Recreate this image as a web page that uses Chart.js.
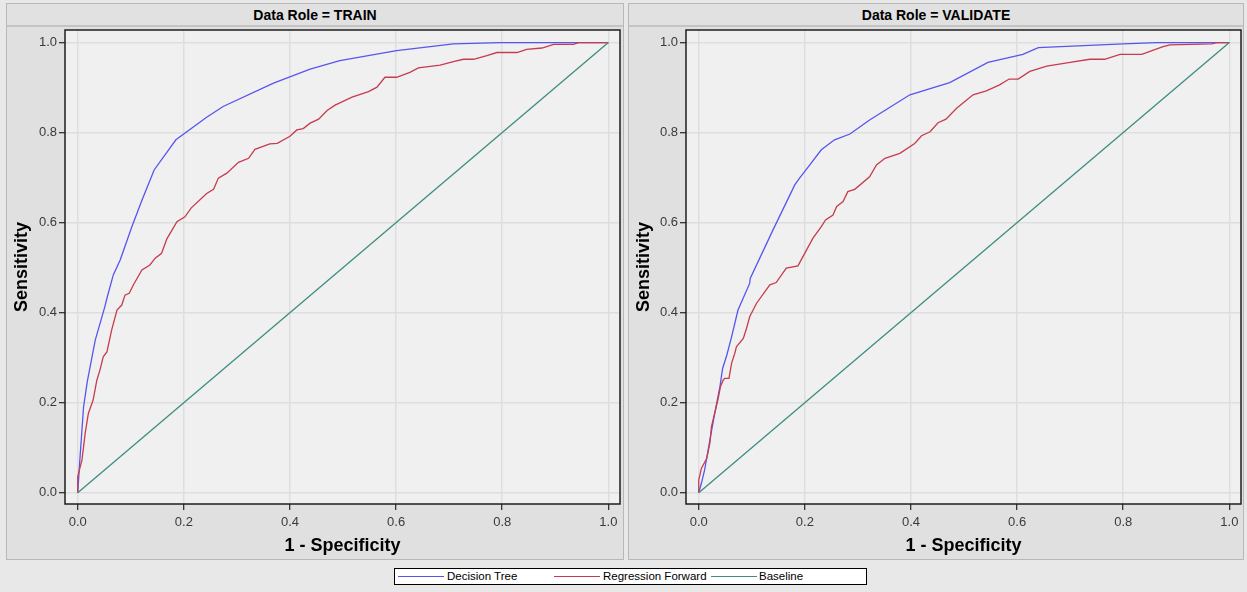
<!DOCTYPE html>
<html>
<head>
<meta charset="utf-8">
<script src="https://cdn.jsdelivr.net/npm/chart.js@4.4.1/dist/chart.umd.min.js"></script>
<style>
    body { margin: 0; width: 1247px; height: 592px; background: #e8e8e8; position: relative; overflow: hidden;
           font-family: "Liberation Sans", Arial, sans-serif; }
    .panel { position: absolute; top: 3px; height: 555px; background: #e0e0e0; border: 1px solid #b8b8b8; }
    .head { position: absolute; left: 0; right: 0; top: 0; height: 21px; border-bottom: 2px solid #c4c4c4;
            background: #e1e1e1; text-align: center; font-weight: bold; font-size: 14px; line-height: 22px; color: #000; }
    canvas { position: absolute; }
    #legend { position: absolute; left: 394px; top: 568px; width: 471px; height: 15px; background: #fff; border: 1px solid #000; }
    #legend span.ln { position: absolute; top: 7px; width: 46px; height: 1px; }
    #legend span.tx { position: absolute; top: 0; font-size: 11.5px; line-height: 15px; color: #000; }
</style>
</head>
<body>
<div class="panel" style="left:6px; width:616px;"><div class="head">Data Role = TRAIN</div></div>
<div class="panel" style="left:628px; width:614px;"><div class="head">Data Role = VALIDATE</div></div>
<canvas id="trainChart" width="617" height="534" style="left:6px; top:26px;"></canvas>
<canvas id="validChart" width="615" height="534" style="left:628px; top:26px;"></canvas>
<div id="legend">
    <span class="ln" style="left:3px; background:#5656ee;"></span><span class="tx" style="left:52px;">Decision Tree</span>
    <span class="ln" style="left:159px; background:#c63c4e;"></span><span class="tx" style="left:208px;">Regression Forward</span>
    <span class="ln" style="left:316px; background:#3d8d82;"></span><span class="tx" style="left:364px;">Baseline</span>
</div>
<script>
// tick labels shared by both panels
const tickValues = [0, 0.2, 0.4, 0.6, 0.8, 1.0];

// TRAIN - Decision Tree
const trainTreeX = [0, 0.004, 0.011, 0.018, 0.033, 0.051, 0.055, 0.067, 0.080, 0.102, 0.121, 0.144, 0.185, 0.243, 0.274, 0.369, 0.438, 0.494, 0.601, 0.708, 0.796, 0.941, 1];
const trainTreeY = [0, 0.073, 0.191, 0.247, 0.339, 0.413, 0.432, 0.484, 0.517, 0.591, 0.650, 0.717, 0.784, 0.834, 0.858, 0.910, 0.941, 0.960, 0.982, 0.997, 1.0, 1.0, 1];

// TRAIN - Regression Forward
const trainRegX = [0, 0, 0.008, 0.014, 0.020, 0.029, 0.036, 0.042, 0.048, 0.055, 0.064, 0.074, 0.083, 0.089, 0.097, 0.105, 0.121, 0.136, 0.146, 0.158, 0.168, 0.187, 0.202, 0.214, 0.243, 0.256, 0.265, 0.281, 0.303, 0.322, 0.334, 0.362, 0.376, 0.400, 0.413, 0.425, 0.438, 0.454, 0.470, 0.485, 0.517, 0.548, 0.564, 0.579, 0.601, 0.626, 0.642, 0.683, 0.708, 0.727, 0.746, 0.771, 0.790, 0.828, 0.846, 0.875, 0.897, 0.934, 0.944, 1];
const trainRegY = [0, 0.036, 0.073, 0.132, 0.176, 0.206, 0.250, 0.273, 0.302, 0.313, 0.362, 0.406, 0.417, 0.439, 0.443, 0.462, 0.495, 0.506, 0.521, 0.532, 0.564, 0.602, 0.613, 0.633, 0.665, 0.674, 0.699, 0.710, 0.734, 0.743, 0.763, 0.775, 0.776, 0.792, 0.806, 0.809, 0.821, 0.830, 0.849, 0.861, 0.879, 0.891, 0.901, 0.923, 0.923, 0.934, 0.944, 0.950, 0.958, 0.963, 0.963, 0.971, 0.978, 0.978, 0.985, 0.988, 0.996, 0.996, 1.0, 1];

// VALIDATE - Decision Tree
const validTreeX = [0, 0.005, 0.011, 0.021, 0.030, 0.040, 0.045, 0.053, 0.062, 0.074, 0.096, 0.097, 0.140, 0.181, 0.190, 0.209, 0.231, 0.256, 0.285, 0.322, 0.398, 0.473, 0.545, 0.611, 0.640, 0.800, 0.863, 1];
const validTreeY = [0, 0.021, 0.050, 0.117, 0.176, 0.236, 0.276, 0.306, 0.347, 0.406, 0.465, 0.476, 0.584, 0.684, 0.699, 0.728, 0.762, 0.784, 0.797, 0.828, 0.884, 0.911, 0.956, 0.974, 0.989, 0.997, 1.0, 1];

// VALIDATE - Regression Forward
const validRegX = [0, 0, 0.005, 0.015, 0.021, 0.024, 0.030, 0.036, 0.041, 0.046, 0.049, 0.057, 0.062, 0.068, 0.071, 0.084, 0.090, 0.096, 0.109, 0.134, 0.146, 0.165, 0.187, 0.215, 0.231, 0.239, 0.253, 0.260, 0.272, 0.281, 0.294, 0.322, 0.335, 0.351, 0.379, 0.407, 0.420, 0.436, 0.451, 0.466, 0.486, 0.517, 0.542, 0.567, 0.585, 0.602, 0.624, 0.656, 0.700, 0.737, 0.765, 0.794, 0.835, 0.875, 0.888, 0.967, 0.976, 1];
const validRegY = [0, 0.028, 0.054, 0.076, 0.110, 0.147, 0.176, 0.206, 0.236, 0.250, 0.254, 0.254, 0.288, 0.310, 0.324, 0.343, 0.365, 0.391, 0.421, 0.462, 0.467, 0.499, 0.504, 0.565, 0.591, 0.606, 0.617, 0.636, 0.647, 0.669, 0.674, 0.702, 0.728, 0.743, 0.754, 0.776, 0.793, 0.802, 0.822, 0.830, 0.854, 0.884, 0.893, 0.906, 0.919, 0.919, 0.936, 0.948, 0.956, 0.963, 0.963, 0.974, 0.974, 0.991, 0.995, 0.997, 1.0, 1];

// Baseline
const baseX = [0, 1];
const baseY = [0, 1];

const pts = (xs, ys) => xs.map((x, i) => ({ x: x, y: ys[i] }));

// grey plot background + black frame around the data area
const framePlugin = {
    id: 'frame',
    beforeDraw(chart) {
        const a = chart.chartArea, ctx = chart.ctx;
        ctx.save();
        ctx.fillStyle = '#f0f0f0';
        ctx.fillRect(a.left, a.top, a.right - a.left, a.bottom - a.top);
        ctx.restore();
    },
    afterDraw(chart) {
        const a = chart.chartArea, ctx = chart.ctx;
        ctx.save();
        ctx.strokeStyle = '#1e1e1e';
        ctx.lineWidth = 1.5;
        ctx.strokeRect(a.left, a.top, a.right - a.left, a.bottom - a.top);
        ctx.restore();
    }
};

function makeRoc(id, treeX, treeY, regX, regY, yWidth, padRight) {
    const ctx = document.getElementById(id).getContext('2d');
    const line = (label, data, color) => ({
        label: label, data: data, borderColor: color, backgroundColor: color,
        borderWidth: 1.3, pointRadius: 0, tension: 0, fill: false
    });
    const setTicks = axis => { axis.ticks = tickValues.map(v => ({ value: v })); };
    // fixed axis boxes, no extra label padding so the frame lands where the original has it
    const fitX = s => { s.height = 56; s.paddingLeft = 0; s.paddingRight = 0; };
    const fitY = s => { s.width = yWidth; s.paddingTop = 0; s.paddingBottom = 0; };
    return new Chart(ctx, {
        type: 'line',
        data: {
            datasets: [
                line('Baseline', pts(baseX, baseY), '#3d8d82'),
                line('Regression Forward', pts(regX, regY), '#c63c4e'),
                line('Decision Tree', pts(treeX, treeY), '#5656ee')
            ]
        },
        options: {
            responsive: false,
            animation: false,
            layout: { padding: { top: 4, right: padRight, left: 0, bottom: 0 } },
            plugins: { legend: { display: false }, tooltip: { enabled: false } },
            scales: {
                x: {
                    type: 'linear', min: -0.024, max: 1.022,
                    afterBuildTicks: setTicks,
                    afterFit: fitX,
                    border: { display: false },
                    grid: { color: '#dedede', lineWidth: 1.5, tickColor: '#000', tickLength: 6, tickWidth: 1 },
                    ticks: { color: '#3a3a3a', padding: 5, font: { size: 13, family: '"Liberation Sans", Arial' },
                             callback: v => v.toFixed(1), maxRotation: 0 },
                    title: { display: true, text: '1 - Specificity', color: '#000', padding: { top: 0, bottom: 3 },
                             font: { size: 18, weight: 'bold', family: '"Liberation Sans", Arial' } }
                },
                y: {
                    type: 'linear', min: -0.025, max: 1.028,
                    afterBuildTicks: setTicks,
                    afterFit: fitY,
                    border: { display: false },
                    grid: { color: '#dedede', lineWidth: 1.5, tickColor: '#000', tickLength: 6, tickWidth: 1 },
                    ticks: { color: '#3a3a3a', padding: 2, font: { size: 13, family: '"Liberation Sans", Arial' },
                             callback: v => v.toFixed(1) },
                    title: { display: true, text: 'Sensitivity', color: '#000', padding: { top: 5, bottom: 0 },
                             font: { size: 18, weight: 'bold', family: '"Liberation Sans", Arial' } }
                }
            }
        },
        plugins: [framePlugin]
    });
}

makeRoc('trainChart', trainTreeX, trainTreeY, trainRegX, trainRegY, 59, 3);
makeRoc('validChart', validTreeX, validTreeY, validRegX, validRegY, 58, 2);
</script>
</body>
</html>
